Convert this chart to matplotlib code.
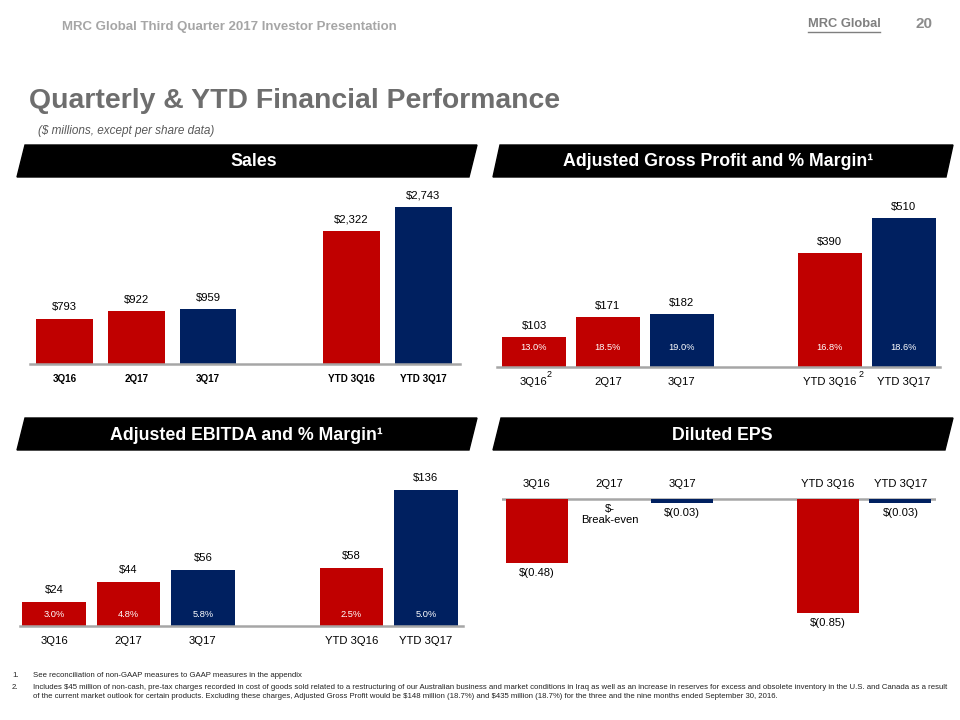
import matplotlib
matplotlib.use("Agg")
import matplotlib.pyplot as plt
from matplotlib.patches import Polygon

W, H = 960, 720
RED = "#C00000"
NAVY = "#002060"
AXIS_GRAY = "#A6A6A6"

# data
categories = ["3Q16", "2Q17", "3Q17", "YTD 3Q16", "YTD 3Q17"]
bar_colors = [RED, RED, NAVY, RED, NAVY]
xpos = [0, 1, 2, 4, 5]
sales = [793, 922, 959, 2322, 2743]
gross = [103, 171, 182, 390, 510]
gross_margin = ["13.0%", "18.5%", "19.0%", "16.8%", "18.6%"]
gross_notes = ["2", "", "", "2", ""]
ebitda = [24, 44, 56, 58, 136]
ebitda_margin = ["3.0%", "4.8%", "5.8%", "2.5%", "5.0%"]
eps = [-0.48, 0.0, -0.03, -0.85, -0.03]
eps_labels = ["$(0.48)", "$-\nBreak-even", "$(0.03)", "$(0.85)", "$(0.03)"]

footnotes = [
    ("1.", "See reconciliation of non-GAAP measures to GAAP measures in the appendix"),
    ("2.", "Includes $45 million of non-cash, pre-tax charges recorded in cost of goods sold related to a restructuring of our Australian business and market conditions in Iraq as well as an increase in reserves for excess and obsolete inventory in the U.S. and Canada as a result\n"
           "of the current market outlook for certain products. Excluding these charges, Adjusted Gross Profit would be $148 million (18.7%) and $435 million (18.7%) for the three and the nine months ended September 30, 2016."),
]

plt.rcParams["font.family"] = ["Liberation Sans", "DejaVu Sans"]
FS = 8.1  # chart text size

fig = plt.figure(figsize=(W / 100, H / 100), dpi=100)
bg = fig.add_axes([0, 0, 1, 1])
bg.set_xlim(0, W)
bg.set_ylim(H, 0)
bg.axis("off")


def px_axes(left, top, right, bottom):
    return fig.add_axes([left / W, 1 - bottom / H, (right - left) / W, (bottom - top) / H])


def banner(x0, y0, x1, y1, slant, text, tx, ty):
    pts = [(x0 + slant, y0), (x1, y0), (x1 - slant, y1), (x0, y1)]
    bg.add_patch(Polygon(pts, closed=True, color="black"))
    bg.text(tx, ty, text, color="white", fontsize=12.8, fontweight="bold",
            ha="center", va="center")


def style(ax, xl, yl):
    ax.set_xlim(*xl)
    ax.set_ylim(*yl)
    for s in ["top", "right", "left"]:
        ax.spines[s].set_visible(False)
    ax.spines["bottom"].set_color(AXIS_GRAY)
    ax.spines["bottom"].set_linewidth(1.8)
    ax.set_yticks([])
    ax.patch.set_alpha(0)


# page header
bg.text(62, 27, "MRC Global Third Quarter 2017 Investor Presentation", color="#A6A6A6",
        fontsize=9.5, fontweight="bold", va="center")
bg.text(808, 24, "MRC Global", color="#7F7F7F", fontsize=9.3, fontweight="bold", va="center")
bg.plot([808, 880], [32, 32], color="#7F7F7F", lw=1)
bg.text(932, 24, "20", color="#8C8C8C", fontsize=11, fontweight="bold", va="center", ha="right")
bg.text(29, 101, "Quarterly & YTD Financial Performance", color="#6E6E6E",
        fontsize=20.4, fontweight="bold", va="center")
bg.text(38, 131, "($ millions, except per share data)", color="#595959", fontsize=8.5,
        style="italic", va="center")

banner(17, 145, 477, 177, 8, "Sales", 254, 162)
banner(493, 145, 953, 177, 7, "Adjusted Gross Profit and % Margin\u00b9", 718, 162)
banner(17, 418, 477, 450, 8, "Adjusted EBITDA and % Margin\u00b9", 246, 435)
banner(493, 418, 953, 450, 8, "Diluted EPS", 722, 435)

# Sales
ax = px_axes(30, 190, 460, 364)
ax.bar(xpos, sales, width=0.79, color=bar_colors)
style(ax, (-0.48, 5.51), (0, 174 / 0.0573))
ax.set_xticks(xpos, categories, fontsize=7.1, fontweight="bold")
ax.tick_params(axis="x", length=0, pad=7)
for x, v in zip(xpos, sales):
    ax.annotate(f"${v:,}", (x, v), xytext=(0, 4.5), textcoords="offset points",
                ha="center", va="bottom", fontsize=FS)

# Adjusted gross profit
ax = px_axes(497, 190, 940, 367)
ax.bar(xpos, gross, width=0.86, color=bar_colors)
style(ax, (-0.5, 5.49), (0, 177 / 0.292))
ax.set_xticks(xpos, categories, fontsize=FS)
ax.tick_params(axis="x", length=0, pad=7)
for x, v, m, n, lab in zip(xpos, gross, gross_margin, gross_notes, categories):
    ax.annotate(f"${v:,}", (x, v), xytext=(0, 4.5), textcoords="offset points",
                ha="center", va="bottom", fontsize=FS)
    ax.annotate(m, (x, 0), xytext=(0, 14.4), textcoords="offset points", ha="center",
                va="center", color="white", fontsize=6.7)
    if n:
        dx = len(lab) * 2.35 + (3.5 if " " in lab else 1.8)
        ax.annotate(n, (x, 0), xytext=(dx, -5.5), textcoords="offset points",
                    ha="center", va="center", fontsize=6.5)

# Adjusted EBITDA
ax = px_axes(20, 465, 463, 626)
ax.bar(xpos, ebitda, width=0.86, color=bar_colors)
style(ax, (-0.46, 5.5), (0, 161))
ax.set_xticks(xpos, categories, fontsize=FS)
ax.tick_params(axis="x", length=0, pad=7)
for x, v, m in zip(xpos, ebitda, ebitda_margin):
    ax.annotate(f"${v:,}", (x, v), xytext=(0, 5), textcoords="offset points",
                ha="center", va="bottom", fontsize=FS)
    ax.annotate(m, (x, 0), xytext=(0, 8.6), textcoords="offset points", ha="center",
                va="center", color="white", fontsize=6.7)

# Diluted EPS
ax = px_axes(502, 465, 936, 640)
ax.bar(xpos, eps, width=0.85, color=bar_colors)
style(ax, (-0.48, 5.49), (-141 / 134, 34 / 134))
ax.spines["bottom"].set_visible(False)
ax.axhline(0, color=AXIS_GRAY, lw=1.8, zorder=0)
ax.set_xticks([])
for x, v, lab, c in zip(xpos, eps, eps_labels, categories):
    ax.annotate(c, (x, 0), xytext=(0, 11), textcoords="offset points",
                ha="center", va="center", fontsize=FS)
    ax.annotate(lab, (x, v), xytext=(0, -3.5), textcoords="offset points",
                ha="center", va="top", fontsize=FS, linespacing=1.1)

# footnotes
for i, (num, txt) in enumerate(footnotes):
    y = 672 + i * 12
    bg.text(12, y, num, fontsize=5.6, va="top", color="#222222")
    bg.text(33, y, txt, fontsize=5.6, va="top", color="#222222", parse_math=False,
            linespacing=1.45)

fig.savefig("out.png", dpi=100)
